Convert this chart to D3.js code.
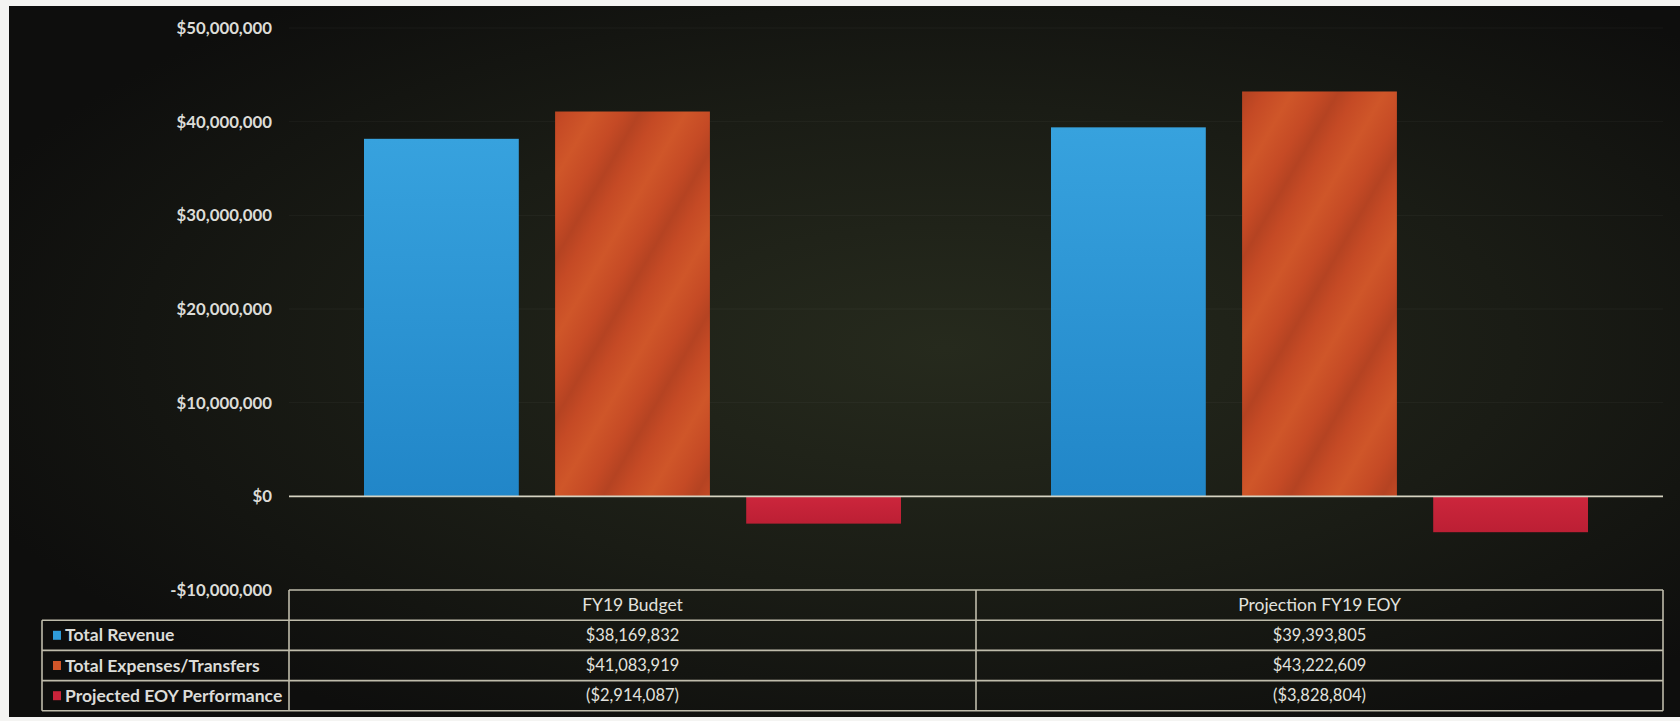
<!DOCTYPE html>
<html>
<head>
<meta charset="utf-8">
<script src="https://cdn.jsdelivr.net/npm/d3@7"></script>
<style>
  html, body { margin: 0; padding: 0; background: #f4f4f2; }
  svg { display: block; }
  text { font-family: Lato, "Open Sans", sans-serif; }
</style>
</head>
<body>
<svg id="chart" width="1680" height="721"></svg>
<script>
// ---- data ----
const categories = ["FY19 Budget", "Projection FY19 EOY"];
const seriesNames = ["Total Revenue", "Total Expenses/Transfers", "Projected EOY Performance"];
const totalRevenue = [38169832, 39393805];
const totalExpenses = [41083919, 43222609];
const projectedPerformance = [-2914087, -3828804];
const yTickValues = [-10000000, 0, 10000000, 20000000, 30000000, 40000000, 50000000];
const seriesColors = ["#2f9bd9", "#cf5529", "#c8233a"];

const seriesValues = [totalRevenue, totalExpenses, projectedPerformance];

// ---- layout ----
const W = 1680, H = 721;
const svg = d3.select("#chart");
const defs = svg.append("defs");

const bg = defs.append("radialGradient").attr("id", "bg")
  .attr("cx", "56%").attr("cy", "48%").attr("r", "62%");
bg.append("stop").attr("offset", "0%").attr("stop-color", "#262a1d");
bg.append("stop").attr("offset", "55%").attr("stop-color", "#1a1c15");
bg.append("stop").attr("offset", "100%").attr("stop-color", "#0e0e0d");

const gBlue = defs.append("linearGradient").attr("id", "gBlue")
  .attr("x1", 0).attr("y1", 0).attr("x2", 0).attr("y2", 1);
gBlue.append("stop").attr("offset", "0%").attr("stop-color", "#37a2de");
gBlue.append("stop").attr("offset", "100%").attr("stop-color", "#2186c8");

const gOrange = defs.append("linearGradient").attr("id", "gOrange")
  .attr("gradientUnits", "userSpaceOnUse")
  .attr("x1", 0).attr("y1", 0).attr("x2", 40).attr("y2", 0)
  .attr("spreadMethod", "reflect")
  .attr("gradientTransform", "rotate(30)");
gOrange.append("stop").attr("offset", "0%").attr("stop-color", "#cf5629");
gOrange.append("stop").attr("offset", "60%").attr("stop-color", "#c54a25");
gOrange.append("stop").attr("offset", "100%").attr("stop-color", "#b54322");

const gRed = defs.append("linearGradient").attr("id", "gRed")
  .attr("x1", 0).attr("y1", 0).attr("x2", 0).attr("y2", 1);
gRed.append("stop").attr("offset", "0%").attr("stop-color", "#cc263c");
gRed.append("stop").attr("offset", "100%").attr("stop-color", "#bc1f34");

const fills = ["url(#gBlue)", "url(#gOrange)", "url(#gRed)"];

// dark panel
svg.append("rect").attr("x", 9).attr("y", 6).attr("width", W - 9).attr("height", 711)
  .attr("fill", "url(#bg)");

const plotLeft = 289, plotRight = 1663;
const y = d3.scaleLinear().domain([-10000000, 50000000]).range([590, 28]);

const x0 = d3.scaleBand().domain(categories).range([plotLeft, plotRight]).padding(0);
const outer = 75;
const x1 = d3.scaleBand().domain(seriesNames)
  .range([outer, x0.bandwidth() - outer]).paddingInner(0.19).paddingOuter(0);

// gridlines (faint)
svg.append("g").selectAll("line")
  .data(yTickValues.filter(v => v > 0))
  .join("line")
  .attr("x1", plotLeft).attr("x2", plotRight)
  .attr("y1", d => y(d)).attr("y2", d => y(d))
  .attr("stroke", "rgba(255,255,255,0.04)").attr("stroke-width", 1);

// y axis labels
const locale = d3.formatLocale({decimal: ".", thousands: ",", grouping: [3], currency: ["$", ""], minus: "-"});
const fmtAxis = locale.format("$,");
const yAxis = d3.axisLeft(y).tickValues(yTickValues).tickFormat(fmtAxis).tickSize(0).tickPadding(0);
const gy = svg.append("g").attr("transform", "translate(272,0)").call(yAxis);
gy.select(".domain").remove();
gy.selectAll("text")
  .attr("fill", "#dcdcd8")
  .attr("font-size", 16.8)
  .attr("font-weight", 700)
  .attr("font-family", "Lato, 'Open Sans', sans-serif");

// bars
const groups = svg.append("g").selectAll("g")
  .data(categories)
  .join("g")
  .attr("transform", d => `translate(${x0(d)},0)`);

groups.selectAll("rect")
  .data((c, ci) => seriesNames.map((s, si) => ({s, si, v: seriesValues[si][ci]})))
  .join("rect")
  .attr("x", d => x1(d.s))
  .attr("width", x1.bandwidth())
  .attr("y", d => y(Math.max(0, d.v)))
  .attr("height", d => Math.abs(y(d.v) - y(0)))
  .attr("fill", d => fills[d.si]);

// zero line
svg.append("line")
  .attr("x1", plotLeft).attr("x2", plotRight)
  .attr("y1", y(0)).attr("y2", y(0))
  .attr("stroke", "#d6d3c2").attr("stroke-width", 1.6);

// ---- data table ----
const tableTop = y(-10000000);
const rowH = 30.2;
const legendLeft = 42;
const lineColor = "#bfbcab";
const tbl = svg.append("g").attr("fill", "none").attr("stroke", lineColor).attr("stroke-width", 1.6);

tbl.append("line").attr("x1", plotLeft).attr("x2", plotRight).attr("y1", tableTop).attr("y2", tableTop);
d3.range(1, seriesNames.length + 2).forEach(i => {
  tbl.append("line").attr("x1", legendLeft).attr("x2", plotRight)
    .attr("y1", tableTop + i * rowH).attr("y2", tableTop + i * rowH);
});
tbl.append("line").attr("x1", legendLeft).attr("x2", legendLeft)
  .attr("y1", tableTop + rowH).attr("y2", tableTop + (seriesNames.length + 1) * rowH);
[plotLeft, ...categories.map(c => x0(c) + x0.bandwidth())].forEach(xx => {
  tbl.append("line").attr("x1", xx).attr("x2", xx)
    .attr("y1", tableTop).attr("y2", tableTop + (seriesNames.length + 1) * rowH);
});

const fmtVal = v => v < 0 ? "(" + locale.format("$,")(-v) + ")" : locale.format("$,")(v);

// header
svg.append("g").selectAll("text").data(categories).join("text")
  .attr("x", d => x0(d) + x0.bandwidth() / 2)
  .attr("y", tableTop + rowH / 2)
  .attr("dy", "0.35em")
  .attr("text-anchor", "middle")
  .attr("fill", "#e2e2de")
  .attr("font-size", 17.5)
  .text(d => d);

// values
seriesNames.forEach((s, si) => {
  const ry = tableTop + (si + 1) * rowH + rowH / 2;
  svg.append("g").selectAll("text").data(categories).join("text")
    .attr("x", d => x0(d) + x0.bandwidth() / 2)
    .attr("y", ry)
    .attr("dy", "0.35em")
    .attr("text-anchor", "middle")
    .attr("fill", "#e2e2de")
    .attr("font-size", 16.5)
    .text((d, ci) => fmtVal(seriesValues[si][ci]));
  // legend
  svg.append("rect")
    .attr("x", 53).attr("y", ry - 4.5).attr("width", 8).attr("height", 9)
    .attr("fill", seriesColors[si]);
  svg.append("text")
    .attr("x", 65).attr("y", ry).attr("dy", "0.35em")
    .attr("fill", "#dcdcd8").attr("font-size", 17.5).attr("font-weight", 700)
    .text(s);
});
</script>
</body>
</html>
